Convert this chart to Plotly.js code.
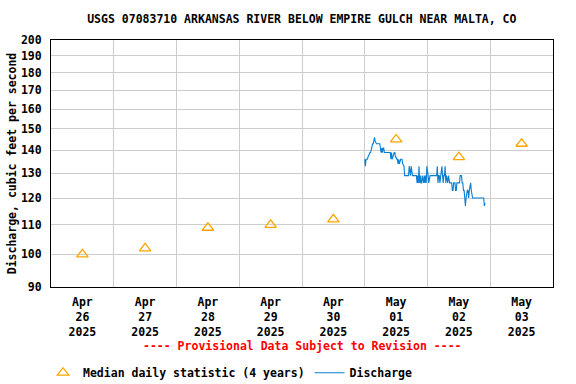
<!DOCTYPE html>
<html>
<head>
<meta charset="utf-8">
<script src="https://cdn.plot.ly/plotly-3.0.1.min.js"></script>
<style>html,body{margin:0;padding:0;background:#fff;}#chart{width:576px;height:384px;}</style>
</head>
<body>
<div id="chart"></div>
<script>
// Median daily statistic (4 years), one value per day (plotted at noon)
const medianDates = ["2025-04-26 12:00","2025-04-27 12:00","2025-04-28 12:00","2025-04-29 12:00",
                     "2025-04-30 12:00","2025-05-01 12:00","2025-05-02 12:00","2025-05-03 12:00"];
const medianValues = [100, 102, 109, 110, 112, 145, 137, 143];

// Discharge, 15-minute readings starting 2025-05-01 00:00
const dischargeStart = "2025-05-01T00:00:00";
const dischargeStepMinutes = 15;
const dischargeValues = [
  136,133,136,136, 136,137,138,139, 139,139,141,141, 143,143,146,146,
  144,143,143,143, 143,143,143,143, 141,139,141,139, 141,141,139,139,
  139,139,139,139, 139,139,139,139, 136,139,136,138, 138,139,139,137,
  137,136,136,134, 136,134,136,136, 136,136,134,133, 133,129,129,129,
  129,129,129,129, 133,129,129,133, 129,129,129,129, 129,129,129,129,
  126,129,126,133, 126,129,126,126, 129,126,126,129, 126,129,126,133,
  129,129,126,129, 129,129,129,129, 129,129,129,129, 129,129,129,133,
  126,129,129,126, 129,129,133,129, 126,129,129,133, 126,129,126,126,
  129,126,126,126, 126,126,123,123, 126,126,126,123, 123,126,126,126,
  126,126,129,129, 129,126,126,123, 123,120,117,120, 123,123,123,120,
  123,126,126,123, 120,120,120,120, 120,120,120,120, 120,120,120,120,
  120,120,120,120, 120,120,120,117, 118
];

const yTickVals = [90,100,110,120,130,140,150,160,170,180,190,200];
const titleText = "USGS 07083710 ARKANSAS RIVER BELOW EMPIRE GULCH NEAR MALTA, CO";
const yTitleText = "Discharge, cubic feet per second";
const noteText = "---- Provisional Data Subject to Revision ----";
const medianName = "Median daily statistic (4 years)";
const dischargeName = "Discharge";

function pad(n){return (n<10?"0":"")+n;}
const t0 = new Date(dischargeStart + "Z").getTime();
const dischargeTimes = dischargeValues.map((v,i)=>{
  const d = new Date(t0 + i*dischargeStepMinutes*60000);
  return d.getUTCFullYear()+"-"+pad(d.getUTCMonth()+1)+"-"+pad(d.getUTCDate())+" "+pad(d.getUTCHours())+":"+pad(d.getUTCMinutes());
});

const FONT = "DejaVu Sans Mono, Liberation Mono, monospace";
const F = (c)=>({family: FONT, size: 11.5, color: c || "#000", weight: "bold"});

const traces = [
  {
    x: medianDates, y: medianValues, type: "scatter", mode: "markers",
    name: medianName,
    marker: {symbol: "triangle-up-open", size: 10, color: "#ffa500", line: {width: 1.3, color: "#ffa500"}}
  },
  {
    x: dischargeTimes, y: dischargeValues, type: "scatter", mode: "lines",
    name: dischargeName,
    line: {color: "#0a7fd1", width: 1.1}
  }
];

const layout = {
  width: 576, height: 384,
  margin: {l: 51, r: 23, t: 40, b: 97, autoexpand: false},
  paper_bgcolor: "#ffffff", plot_bgcolor: "#ffffff",
  font: F(),
  title: {text: titleText, font: F(), x: 0.524, xanchor: "center", y: 0.95, yanchor: "middle"},
  xaxis: {
    type: "date", automargin: false,
    range: ["2025-04-26 00:00", "2025-05-04 00:00"],
    tick0: "2025-04-26", dtick: 86400000,
    ticklabelmode: "period",
    tickformat: "%b<br>%d<br>%Y",
    showgrid: true, gridcolor: "#cccccc", gridwidth: 1,
    showline: true, linecolor: "#000", linewidth: 1, mirror: true,
    ticks: "", zeroline: false,
    ticklabelstandoff: 4,
    tickfont: F()
  },
  yaxis: {
    type: "log", automargin: false,
    range: [Math.log10(90), Math.log10(200)],
    tickvals: yTickVals, ticktext: yTickVals.map(String),
    showgrid: true, gridcolor: "#cccccc", gridwidth: 1,
    showline: true, linecolor: "#000", linewidth: 1, mirror: true,
    ticks: "", zeroline: false,
    ticklabelstandoff: 6,
    tickfont: F(),
    title: {text: yTitleText, font: F(), standoff: 1}
  },
  showlegend: true,
  legend: {
    orientation: "h", xref: "container", yref: "container",
    x: 0.0747, xanchor: "left", y: 0.0294, yanchor: "middle",
    font: F(),
    bgcolor: "rgba(0,0,0,0)", itemwidth: 30, tracegroupgap: 0
  },
  annotations: [
    {text: noteText, xref: "paper", yref: "paper", x: 0.5, y: -0.239, xanchor: "center", yanchor: "middle",
     showarrow: false, font: F("#ff0000")}
  ]
};

Plotly.newPlot("chart", traces, layout, {displayModeBar: false, staticPlot: true});
</script>
</body>
</html>
